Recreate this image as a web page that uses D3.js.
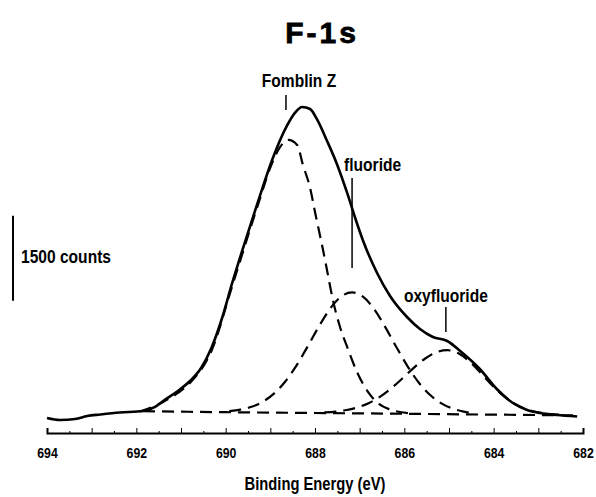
<!DOCTYPE html>
<html>
<head>
<meta charset="utf-8">
<script src="https://cdn.jsdelivr.net/npm/d3@7"></script>
<style>
  body { margin: 0; background: #fff; }
  text { font-family: "Liberation Sans", Arial, sans-serif; fill: #000; }
</style>
</head>
<body>
<div id="chart"></div>
<script>
// measured spectrum (solid line), binding energy in eV and counts above background
const spectrumE = [694.0, 693.71, 693.37, 693.1, 692.81, 692.37, 691.85, 691.58, 691.4, 691.07, 690.8, 690.55,
  690.31, 690.08, 689.86, 689.57, 689.3, 688.96, 688.63, 688.45, 688.29, 688.11, 687.96, 687.73, 687.51,
  687.28, 687.1, 686.93, 686.61, 686.32, 685.94, 685.65, 685.36, 685.04, 684.75, 684.31, 683.93, 683.57,
  683.25, 682.96, 682.58, 682.13];
const spectrumCounts = [-71, -106, -88, -35, -9, 26, 53, 124, 229, 406, 582, 812,
  1183, 1694, 2295, 3030, 3689, 4483, 5083, 5313, 5418, 5383, 5207, 4818, 4413,
  3901, 3459, 3071, 2489, 2083, 1712, 1500, 1359, 1288, 1112, 794, 441, 194,
  71, 18, -18, -44];

// fitted components (dashed)
const fomblinE = [691.92, 691.4, 691.07, 690.8, 690.31, 689.86, 689.3, 688.96, 688.78, 688.6, 688.4, 688.27,
  688.11, 688.0, 687.82, 687.71, 687.6, 687.44, 687.28, 687.06, 686.81, 686.57, 686.32, 686.1, 685.76];
const fomblinCounts = [44, 212, 371, 547, 1130, 2242, 3636, 4430, 4713, 4836, 4748, 4395,
  3989, 3565, 2895, 2453, 2012, 1536, 1183, 741, 388, 177, 79, 35, 9];

const fluorideE = [689.92, 689.67, 689.42, 689.17, 688.92, 688.67, 688.42, 688.17, 687.92, 687.67, 687.42, 687.17,
  686.92, 686.67, 686.42, 686.17, 685.92, 685.67, 685.42, 685.17, 684.92, 684.67, 684.42];
const fluorideCounts = [52, 77, 127, 215, 360, 570, 850, 1184, 1535, 1851, 2070, 2147,
  2066, 1844, 1524, 1170, 833, 548, 335, 187, 95, 42, 14];

const oxyE = [687.79, 687.54, 687.29, 687.04, 686.79, 686.54, 686.29, 686.04, 685.79, 685.54, 685.29, 685.04,
  684.79, 684.54, 684.29, 684.04, 683.79, 683.54, 683.29, 683.04, 682.79, 682.54];
const oxyCounts = [29, 43, 71, 119, 196, 307, 456, 630, 814, 975, 1088, 1126,
  1072, 925, 724, 512, 327, 186, 92, 34, 4, -12];

const backgroundE = [691.85, 690, 688, 686, 684, 682.15];
const backgroundCounts = [50, 32, 18, 4, -11, -24];

const peakLabels = ['Fomblin Z', 'fluoride', 'oxyfluoride'];
const peakCenters = [688.65, 687.17, 685.07];

const majorTicks = d3.range(694, 681.5, -1);
const minorTicks = d3.range(693.5, 682, -1);
const labelTicks = [694, 692, 690, 688, 686, 684, 682];

const width = 596, height = 497;
const squeeze = 0.82; // condensed look of the original lettering

const svg = d3.select('#chart')
  .append('svg')
  .attr('width', width)
  .attr('height', height);

const x = d3.scaleLinear().domain([694, 682]).range([47, 583]);
const y = d3.scaleLinear().domain([0, 1500]).range([414, 329]);

function addText(px, py, str, size, anchor) {
  return svg.append('g')
    .attr('transform', `translate(${px},${py})`)
    .append('text')
    .attr('transform', `scale(${squeeze},1)`)
    .attr('text-anchor', anchor || 'start')
    .style('font-weight', 'bold')
    .style('font-size', size + 'px')
    .text(str);
}

// title
svg.append('text')
  .attr('x', 322).attr('y', 43)
  .attr('text-anchor', 'middle')
  .style('font-weight', 'bold')
  .style('font-size', '30px')
  .style('letter-spacing', '3px')
  .style('stroke', '#000').style('stroke-width', 0.8)
  .text('F-1s');

// axis along the bottom, ticks pointing up
const axisY = 433;
svg.append('g')
  .attr('transform', `translate(0,${axisY})`)
  .call(d3.axisBottom(x).tickValues(minorTicks).tickSize(-2).tickSizeOuter(0).tickFormat(''))
  .call(g => g.select('.domain').remove());

svg.append('g')
  .attr('transform', `translate(0,${axisY})`)
  .call(d3.axisBottom(x).tickValues(majorTicks).tickSizeInner(-5).tickSizeOuter(-5).tickFormat(''))
  .call(g => g.select('.domain').attr('stroke-width', 2));

const labels = svg.append('g')
  .attr('transform', `translate(0,${axisY})`)
  .call(d3.axisBottom(x).tickValues(labelTicks).tickSize(0).tickPadding(14).tickFormat(d3.format('d')));
labels.select('.domain').remove();
labels.selectAll('text')
  .attr('transform', `scale(${squeeze},1)`)
  .style('font-family', '"Liberation Sans", Arial, sans-serif')
  .style('font-weight', 'bold')
  .style('font-size', '15px');

addText(315, 490, 'Binding Energy (eV)', 18, 'middle');

// scale bar
svg.append('line')
  .attr('x1', 13).attr('x2', 13)
  .attr('y1', y(2000)).attr('y2', y(3500))
  .attr('stroke', '#000').attr('stroke-width', 2);
addText(21, 263, '1500 counts', 19);

const line = (E) => d3.line()
  .x((d, i) => x(E[i]))
  .y(d => y(d))
  .curve(d3.curveMonotoneX);

const dashed = [
  [backgroundE, backgroundCounts],
  [fomblinE, fomblinCounts],
  [fluorideE, fluorideCounts],
  [oxyE, oxyCounts]
];
dashed.forEach(([E, C]) => {
  svg.append('path')
    .attr('d', line(E)(C))
    .attr('fill', 'none')
    .attr('stroke', '#000')
    .attr('stroke-width', 2.2)
    .attr('stroke-dasharray', '12,7');
});

svg.append('path')
  .attr('d', line(spectrumE)(spectrumCounts))
  .attr('fill', 'none')
  .attr('stroke', '#000')
  .attr('stroke-width', 2.6)
  .attr('stroke-linejoin', 'round');

// peak labels with leader lines
const leaders = [[95, 110], [178, 268], [307, 332]];
const labelPos = [[13, 87, 'middle'], [-8, 171, 'start'], [0, 302, 'middle']];
peakLabels.forEach((name, i) => {
  const cx = x(peakCenters[i]);
  svg.append('line')
    .attr('x1', cx).attr('x2', cx)
    .attr('y1', leaders[i][0]).attr('y2', leaders[i][1])
    .attr('stroke', '#000').attr('stroke-width', 1.5);
  addText(cx + labelPos[i][0], labelPos[i][1], name, 19, labelPos[i][2]);
});
</script>
</body>
</html>
